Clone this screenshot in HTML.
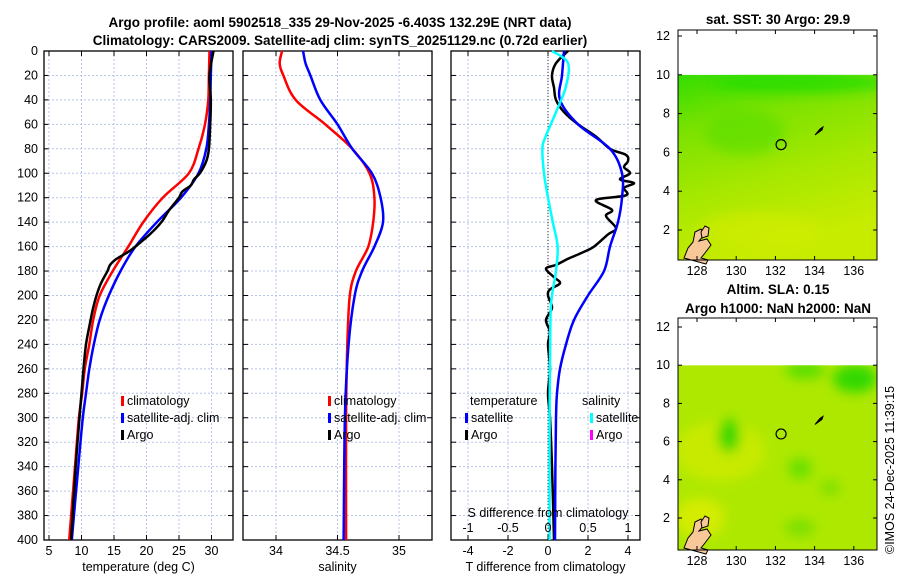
<!DOCTYPE html>
<html><head><meta charset="utf-8"><style>
body{margin:0;background:#fff}
svg{display:block;font-family:"Liberation Sans","DejaVu Sans",sans-serif}
text{fill:#000}
.t{font-size:12.5px}
.b{font-weight:bold;font-size:13.5px}
</style></head><body>
<svg id="c" width="900" height="580" viewBox="0 0 900 580" xmlns="http://www.w3.org/2000/svg">
<defs>
<linearGradient id="g1" x1="0" y1="0" x2="0.3" y2="1">
<stop offset="0" stop-color="#33dd00"/><stop offset="0.3" stop-color="#7de200"/><stop offset="0.65" stop-color="#a8e800"/><stop offset="1" stop-color="#c8ec00"/></linearGradient>
<filter id="bl"><feGaussianBlur stdDeviation="6"/></filter>
</defs>
<text class="b" x="340" y="27" text-anchor="middle">Argo profile: aoml 5902518_335 29-Nov-2025 -6.403S 132.29E (NRT data)</text>
<text class="b" x="340" y="45" text-anchor="middle">Climatology: CARS2009. Satellite-adj clim: synTS_20251129.nc (0.72d earlier)</text>
<g id="p1"></g>
<g id="p2"></g>
<g id="p3"></g>
<g id="m1"></g>
<g id="m2"></g>
<text class="b" x="778" y="24" text-anchor="middle">sat. SST: 30 Argo: 29.9</text>
<text class="b" x="778" y="294" text-anchor="middle">Altim. SLA: 0.15</text>
<text class="b" x="778" y="313" text-anchor="middle">Argo h1000: NaN h2000: NaN</text>
<text class="t" transform="translate(894,554) rotate(-90)">©IMOS 24-Dec-2025 11:39:15</text>
</svg>
<script>
const depthTicks=[0,20,40,60,80,100,120,140,160,180,200,220,240,260,280,300,320,340,360,380,400];
const tempTicks=[5,10,15,20,25,30];
const salTicks=[34,34.5,35];
const tdTicks=[-4,-2,0,2,4];
const sdTicks=[-1,-0.5,0,0.5,1];
const sdTickLabels=["-1","-0.5","0","0.5","1"];
const tDepth=[0,20,40,60,80,100,120,140,160,180,200,220,240,260,280,300,340,400];
const tClim=[29.7,29.6,29.5,29.0,28.0,26.5,22.5,19.5,17.2,14.8,12.8,11.8,11.2,10.5,10.1,9.6,9.0,8.1];
const tSat=[30.0,29.9,29.8,29.6,29.2,28.0,25.3,21.6,18.3,16.0,14.2,12.8,11.9,11.2,10.7,10.2,9.5,8.5];
const argoDepth=[0,20,40,60,80,90,100,105,110,115,120,130,140,150,160,165,170,175,180,190,200,210,220,240,260,280,300,340,400];
const tArgo=[30.3,29.7,29.9,29.8,29.6,29.2,28.2,27.3,26.8,25.5,25.0,23.5,22.3,20.5,18.3,17.0,15.4,14.4,14.0,13.0,12.3,11.8,11.4,10.7,10.3,10.0,9.7,9.1,8.4];
const sDepth=[0,10,20,40,60,80,100,120,140,160,180,200,240,300,400];
const sClim=[34.05,34.03,34.06,34.16,34.4,34.62,34.76,34.8,34.79,34.75,34.65,34.6,34.58,34.57,34.57];
const sSat=[34.22,34.24,34.28,34.36,34.5,34.62,34.78,34.85,34.87,34.8,34.7,34.64,34.59,34.56,34.55];
const dDepth=[0,20,40,60,80,100,120,140,160,180,200,220,240,260,280,300,340,400];
const tdSat=[0.8,0.7,0.6,1.5,3.1,3.7,3.7,3.5,3.1,2.8,2.0,1.3,0.9,0.6,0.45,0.4,0.37,0.35];
const argoDDepth=[0,10,20,30,40,50,60,70,80,85,90,95,100,105,108,112,118,122,130,135,145,150,160,165,170,175,178,185,190,195,200,210,220,230,240,260,280,300,340,400];
const tdArgo=[1.0,0.4,0.2,0.3,0.4,0.8,1.5,2.4,3.1,3.9,4.0,3.8,4.1,3.6,4.3,3.8,3.9,2.4,3.2,2.9,3.4,3.0,2.3,1.7,1.0,0.4,-0.1,0.3,0.6,0.1,0.0,0.2,-0.1,0.1,0.0,0.1,0.0,0.1,0.2,0.3];
const sdDepth=[0,10,30,50,70,80,100,120,140,160,180,200,220,300,400];
const sdSat=[0.05,0.25,0.22,0.1,-0.03,-0.07,-0.05,0.0,0.06,0.12,0.1,0.05,0.03,0.02,0.02];

const NS="http://www.w3.org/2000/svg";
function mk(p,tag,at,txt){const e=document.createElementNS(NS,tag);for(const k in at)e.setAttribute(k,at[k]);if(txt!==undefined)e.textContent=txt;p.appendChild(e);return e;}
const Y0=51,Y1=540;
const yD=d=>Y0+(d/400)*(Y1-Y0);
function frame(g,x0,x1,xs,ticks,labels,nm,title){
  for(const d of depthTicks){const l=mk(g,'line',{x1:x0,x2:x1,y1:yD(d),y2:yD(d),stroke:'#b8c4e8','stroke-dasharray':'2,2','stroke-width':1});
    
    mk(g,'line',{x1:x0,x2:x0+5,y1:yD(d),y2:yD(d),stroke:'#000'});mk(g,'line',{x1:x1-5,x2:x1,y1:yD(d),y2:yD(d),stroke:'#000'});}
  ticks.forEach((t,i)=>{const x=xs(t);const l=mk(g,'line',{x1:x,x2:x,y1:Y0,y2:Y1,stroke:'#b8c4e8','stroke-dasharray':'2,2'});
    
    mk(g,'line',{x1:x,x2:x,y1:Y1-5,y2:Y1,stroke:'#000'});mk(g,'line',{x1:x,x2:x,y1:Y0,y2:Y0+5,stroke:'#000'});
    const tx=mk(g,'text',{x:x,y:555,'text-anchor':'middle',class:'t'},labels[i]);
    });
  mk(g,'rect',{x:x0,y:Y0,width:x1-x0,height:Y1-Y0,fill:'none',stroke:'#000','stroke-width':1.3});
  const tt=mk(g,'text',{x:(x0+x1)/2,y:571,'text-anchor':'middle',class:'t'},title);
  
}
function smoothPath(P){let d=`M${P[0][0].toFixed(1)},${P[0][1].toFixed(1)}`;
  for(let i=0;i<P.length-1;i++){const p0=P[i-1]||P[i],p1=P[i],p2=P[i+1],p3=P[i+2]||p2;
    const c1=[p1[0]+(p2[0]-p0[0])/6,p1[1]+(p2[1]-p0[1])/6],c2=[p2[0]-(p3[0]-p1[0])/6,p2[1]-(p3[1]-p1[1])/6];
    d+=` C${c1[0].toFixed(1)},${c1[1].toFixed(1)} ${c2[0].toFixed(1)},${c2[1].toFixed(1)} ${p2[0].toFixed(1)},${p2[1].toFixed(1)}`;}
  return d;}
function line(g,xs,vals,depths,col,w,nm){
  const P=vals.map((v,i)=>[xs(v),yD(depths[i])]);
  const p=mk(g,'path',{d:smoothPath(P),fill:'none',stroke:col,'stroke-width':w,'stroke-linejoin':'round'});
  
}
function legend(g,x,y,items){items.forEach((it,i)=>{const yy=y+i*17;
  mk(g,'rect',{x:x,y:yy-9,width:3,height:10,fill:it[0]});
  const t=mk(g,'text',{x:x+6,y:yy,class:'t'},it[1]);});}
// panel 1
const p1=document.getElementById('p1');
const xT=t=>49+(t-5)*6.5;
frame(p1,44,233,xT,tempTicks,tempTicks.map(String),'temperature','temperature (deg C)');
depthTicks.forEach(d=>{const t=mk(p1,'text',{x:38,y:yD(d)+4,'text-anchor':'end',class:'t'},String(d));});
line(p1,xT,tClim,tDepth,'#f00',2.5,'temp-climatology-line');
line(p1,xT,tSat,tDepth,'#00f',2.5,'temp-satellite-line');
line(p1,xT,tArgo,argoDepth,'#000',2.5,'temp-argo-line');
legend(p1,121,405,[['#f00','climatology'],['#00f','satellite-adj. clim'],['#000','Argo']]);
// panel 2
const p2=document.getElementById('p2');
const xS=s=>276+(s-34)*123;
frame(p2,243,432,xS,salTicks,['34','34.5','35'],'salinity','salinity');
line(p2,xS,sClim,sDepth,'#f00',2.5,'sal-climatology-line');
line(p2,xS,sSat,sDepth,'#00f',2.5,'sal-satellite-line');
legend(p2,328,405,[['#f00','climatology'],['#00f','satellite-adj. clim'],['#000','Argo']]);
// panel 3
const p3=document.getElementById('p3');
const xTd=v=>548+v*20, xSd=v=>548+v*80;
frame(p3,451,640,xTd,tdTicks,tdTicks.map(String),'tdiff','T difference from climatology');
mk(p3,'line',{x1:548,x2:548,y1:Y0,y2:Y1,stroke:'#333','stroke-dasharray':'1,2'});
line(p3,xTd,tdArgo,argoDDepth,'#000',2.5,'tdiff-argo-line');
line(p3,xTd,tdSat,dDepth,'#00f',2.5,'tdiff-satellite-line');
line(p3,xSd,sdSat,sdDepth,'#0ff',2.5,'sdiff-satellite-line');
sdTicks.forEach((v,i)=>{const t=mk(p3,'text',{x:xSd(v),y:532,'text-anchor':'middle',class:'t'},sdTickLabels[i]);});
{const t=mk(p3,'text',{x:548,y:517,'text-anchor':'middle',class:'t'},'S difference from climatology');}
{const t=mk(p3,'text',{x:470,y:405,class:'t'},'temperature');
 const u=mk(p3,'text',{x:582,y:405,class:'t'},'salinity');}
legend(p3,465,422,[['#00f','satellite'],['#000','Argo']]);
legend(p3,590,422,[['#0ff','satellite'],['#f0f','Argo']]);
// maps
const lonTicks=[128,130,132,134,136], latTicks=[2,4,6,8,10,12];
function map(id,top,bot,lat12,lat2,sla){
  const g=document.getElementById(id);
  const yL=l=>lat2+(l-2)*(lat12-lat2)/10, xL=l=>697+(l-128)*19.6;
  const y10=yL(10);
  mk(g,'rect',{x:678,y:top,width:199,height:bot-top,fill:'#fff'});
  const cg=mk(g,'svg',{x:678,y:y10,width:199,height:bot-y10,overflow:'hidden'});
  const ox=-678,oy=-y10;
  const bg=mk(cg,'g',{filter:'url(#bl)',transform:`translate(${ox},${oy})`});
  if(!sla){mk(cg,'rect',{x:0,y:0,width:199,height:bot-y10,fill:'url(#g1)'});
    cg.appendChild(bg);
    mk(bg,'ellipse',{cx:745,cy:yL(7),rx:40,ry:22,fill:'#55de00',opacity:0.6});
    mk(bg,'ellipse',{cx:800,cy:y10+8,rx:90,ry:10,fill:'#22dd00',opacity:0.8});
    mk(bg,'ellipse',{cx:760,cy:yL(2),rx:60,ry:18,fill:'#d4ec00',opacity:0.6});
  } else {
    mk(cg,'rect',{x:0,y:0,width:199,height:bot-y10,fill:'#aee800'});
    cg.appendChild(bg);
    mk(bg,'ellipse',{cx:720,cy:yL(5.5),rx:45,ry:30,fill:'#c8ea00'});
    mk(bg,'ellipse',{cx:700,cy:yL(2),rx:25,ry:20,fill:'#d4ec00'});
    mk(bg,'ellipse',{cx:729,cy:yL(6.3),rx:11,ry:17,fill:'#33d800'});
    mk(bg,'ellipse',{cx:805,cy:y10+5,rx:20,ry:8,fill:'#55de00'});
    mk(bg,'ellipse',{cx:855,cy:yL(9.3),rx:22,ry:14,fill:'#33d800'});
    mk(bg,'ellipse',{cx:800,cy:yL(4.6),rx:12,ry:10,fill:'#66df00'});
    mk(bg,'ellipse',{cx:830,cy:yL(3.6),rx:10,ry:7,fill:'#77df00'});
    mk(bg,'ellipse',{cx:800,cy:yL(1.5),rx:15,ry:8,fill:'#77df00'});
  }
  mk(g,'path',{d:`M684,${bot-2} l4,-10 l5,-6 l2,-10 l6,-3 l3,6 l-5,6 l8,-2 l4,6 l-6,8 l-4,5 l7,2 l-2,4 z`,fill:'#f8c898',stroke:'#000','stroke-width':1});
  mk(g,'path',{d:`M701,${bot-28} l4,-6 l4,2 l-1,8 l-6,2 z`,fill:'#f8c898',stroke:'#000','stroke-width':1});
  mk(g,'path',{d:`M815,${yL(6.9)} l5,-6 l3,-2 l-1,3 z`,fill:'#000',stroke:'#000'});
  mk(g,'circle',{cx:xL(132.29),cy:yL(6.4),r:5,fill:'none',stroke:'#000','stroke-width':1.2});
  mk(g,'rect',{x:678,y:top,width:199,height:bot-top,fill:'none',stroke:'#000','stroke-width':1});
  latTicks.forEach(l=>{const y=yL(l);mk(g,'line',{x1:678,x2:682,y1:y,y2:y,stroke:'#000'});mk(g,'line',{x1:873,x2:877,y1:y,y2:y,stroke:'#000'});
    const t=mk(g,'text',{x:670,y:y+4,'text-anchor':'end',class:'t'},String(l));});
  lonTicks.forEach(l=>{const x=xL(l);mk(g,'line',{x1:x,x2:x,y1:bot-4,y2:bot,stroke:'#000'});mk(g,'line',{x1:x,x2:x,y1:top,y2:top+4,stroke:'#000'});
    const t=mk(g,'text',{x:x,y:bot+15,'text-anchor':'middle',class:'t'},String(l));});
}
map('m1',30,260,36,230,false);
map('m2',318,550,327,518,true);
</script>
</body></html>
